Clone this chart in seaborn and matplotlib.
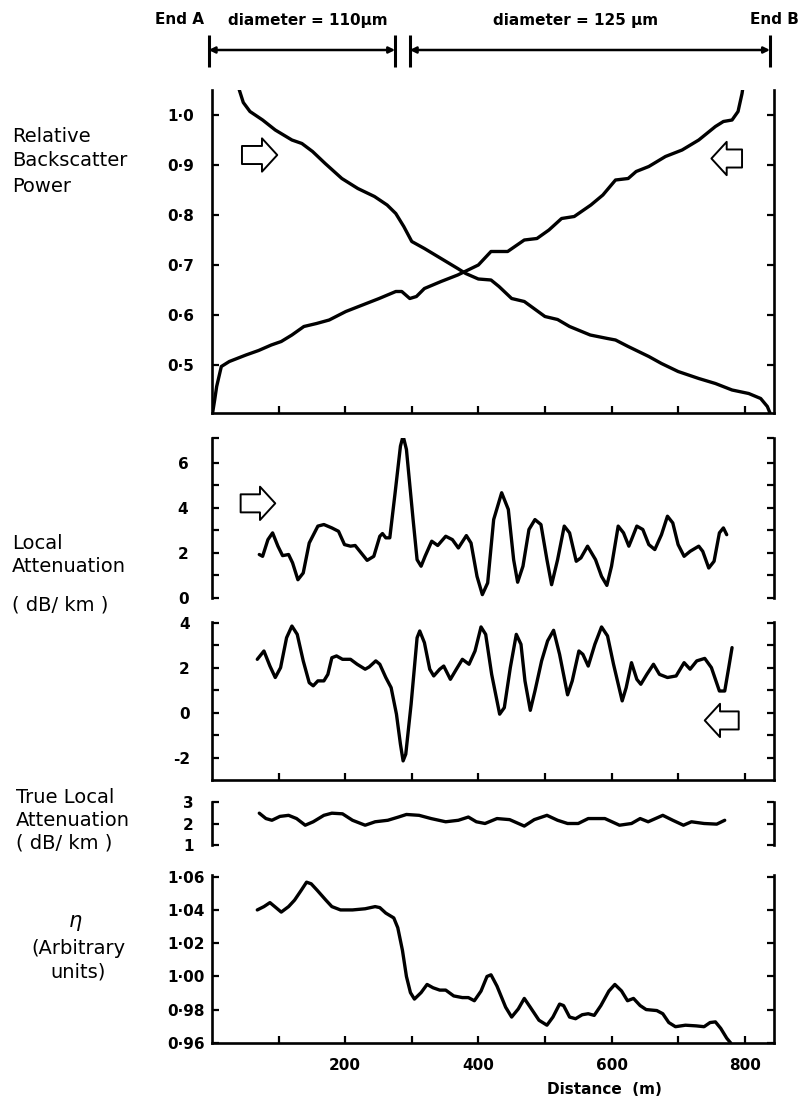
import matplotlib
matplotlib.use('Agg')
from matplotlib import pyplot as plt
import seaborn as sbn

# ---- data (distance in m) ----
# relative backscatter power, launched from End A (falls with distance)
bs_a_x = [38, 41, 47, 57, 76, 95, 120, 135, 151, 170, 195, 219, 244, 263, 276, 288, 300,
          319, 344, 369, 381, 400, 419, 431, 450, 469, 500, 519, 537, 568, 594, 606, 625,
          656, 675, 700, 731, 756, 781, 806, 824, 834, 838]
bs_a_y = [1.07, 1.05, 1.025, 1.007, 0.99, 0.97, 0.95, 0.943, 0.927, 0.903, 0.873, 0.853,
          0.837, 0.82, 0.803, 0.777, 0.747, 0.733, 0.713, 0.693, 0.683, 0.672, 0.67, 0.657,
          0.633, 0.627, 0.597, 0.591, 0.577, 0.56, 0.553, 0.55, 0.537, 0.517, 0.503, 0.487,
          0.473, 0.463, 0.45, 0.443, 0.433, 0.417, 0.404]

# relative backscatter power, launched from End B (rises with distance)
bs_b_x = [1, 4, 7, 14, 26, 51, 70, 89, 104, 120, 138, 157, 176, 201, 226, 251, 276, 285,
          297, 307, 319, 344, 369, 400, 419, 444, 469, 488, 506, 525, 544, 569, 587, 606,
          625, 637, 656, 681, 706, 731, 756, 768, 781, 790, 796, 799]
bs_b_y = [0.405, 0.43, 0.457, 0.497, 0.507, 0.52, 0.529, 0.54, 0.547, 0.56, 0.577, 0.583,
          0.59, 0.607, 0.62, 0.633, 0.647, 0.647, 0.633, 0.637, 0.653, 0.667, 0.68, 0.70,
          0.727, 0.727, 0.75, 0.753, 0.77, 0.793, 0.797, 0.82, 0.84, 0.87, 0.873, 0.887,
          0.897, 0.917, 0.93, 0.95, 0.977, 0.987, 0.99, 1.007, 1.043, 1.07]

# local attenuation (dB/km), forward direction
att_f_x = [71, 76, 84, 91, 99, 106, 115, 121, 129, 137, 146, 159, 168, 180, 190, 199, 208,
           215, 224, 233, 243, 252, 256, 261, 267, 275, 283, 287, 292, 302, 308, 314, 320,
           330, 339, 351, 361, 370, 382, 389, 398, 406, 414, 423, 435, 445, 453, 459, 467,
           476, 485, 494, 503, 510, 519, 529, 537, 547, 554, 564, 576, 585, 593, 600, 610,
           618, 626, 630, 638, 647, 656, 665, 675, 684, 692, 700, 709, 718, 731, 737, 746,
           754, 762, 768, 773]
att_f_y = [1.93, 1.85, 2.59, 2.89, 2.30, 1.88, 1.93, 1.56, 0.81, 1.11, 2.44, 3.19, 3.26,
           3.11, 2.96, 2.37, 2.30, 2.33, 2.0, 1.67, 1.85, 2.74, 2.86, 2.67, 2.67, 4.67, 6.74,
           7.19, 6.59, 3.48, 1.70, 1.41, 1.85, 2.52, 2.33, 2.74, 2.59, 2.22, 2.77, 2.44, 0.96,
           0.15, 0.67, 3.48, 4.67, 3.93, 1.70, 0.70, 1.41, 3.04, 3.48, 3.26, 1.70, 0.59, 1.70,
           3.19, 2.89, 1.63, 1.78, 2.30, 1.70, 0.96, 0.56, 1.41, 3.19, 2.89, 2.30, 2.59, 3.19,
           3.04, 2.37, 2.15, 2.81, 3.63, 3.33, 2.37, 1.85, 2.07, 2.30, 2.07, 1.33, 1.63, 2.89,
           3.11, 2.81]

# local attenuation (dB/km), reverse direction
att_r_x = [68, 78, 87, 95, 103, 112, 120, 128, 137, 146, 152, 159, 168, 174, 180, 187, 196,
           208, 218, 230, 236, 246, 252, 261, 269, 277, 283, 287, 291, 299, 308, 312, 319,
           327, 333, 342, 348, 358, 367, 376, 386, 395, 404, 411, 420, 432, 439, 448, 457,
           464, 470, 478, 485, 495, 504, 513, 522, 534, 541, 551, 557, 565, 575, 585, 594,
           603, 616, 622, 630, 638, 644, 653, 663, 672, 684, 697, 709, 718, 728, 740, 750,
           762, 770, 776, 781]
att_r_y = [2.37, 2.74, 2.07, 1.56, 2.0, 3.33, 3.85, 3.48, 2.30, 1.33, 1.19, 1.41, 1.41,
           1.70, 2.44, 2.52, 2.37, 2.37, 2.15, 1.93, 2.03, 2.30, 2.15, 1.56, 1.11, -0.07,
           -1.41, -2.15, -1.85, 0.37, 3.33, 3.63, 3.11, 1.93, 1.63, 1.93, 2.07, 1.48, 1.93,
           2.37, 2.15, 2.74, 3.81, 3.48, 1.70, -0.07, 0.22, 2.0, 3.48, 3.04, 1.41, 0.10,
           0.96, 2.30, 3.19, 3.66, 2.59, 0.79, 1.41, 2.74, 2.59, 2.07, 3.04, 3.81, 3.41, 2.15,
           0.52, 1.11, 2.22, 1.48, 1.26, 1.70, 2.15, 1.70, 1.56, 1.63, 2.22, 1.93, 2.30, 2.41,
           2.0, 0.96, 0.96, 2.0, 2.89]

# true local attenuation (dB/km)
true_x = [71, 81, 90, 102, 115, 127, 140, 152, 168, 180, 196, 211, 230, 245, 264, 280, 292,
          311, 329, 351, 370, 385, 397, 410, 428, 447, 469, 484, 503, 519, 534, 550, 565,
          590, 612, 630, 643, 655, 677, 692, 708, 720, 739, 758, 770]
true_y = [2.48, 2.23, 2.15, 2.33, 2.38, 2.23, 1.92, 2.08, 2.38, 2.48, 2.45, 2.15, 1.92,
          2.08, 2.15, 2.30, 2.42, 2.38, 2.23, 2.08, 2.15, 2.30, 2.08, 2.0, 2.23, 2.18, 1.88,
          2.18, 2.38, 2.15, 2.0, 2.0, 2.23, 2.23, 1.92, 2.0, 2.23, 2.08, 2.38, 2.15, 1.92,
          2.08, 2.0, 1.97, 2.15]

# eta (arbitrary units)
eta_x = [68, 78, 87, 96, 104, 115, 124, 134, 142, 149, 158, 171, 180, 193, 211, 230, 245,
         252, 261, 273, 279, 286, 292, 298, 304, 314, 323, 332, 342, 351, 363, 376, 385,
         394, 404, 413, 419, 428, 441, 450, 460, 469, 478, 491, 503, 512, 522, 528, 537,
         546, 556, 565, 574, 584, 596, 605, 615, 624, 633, 643, 652, 668, 677, 686, 696,
         711, 727, 739, 748, 756, 764, 773, 779]
eta_y = [1.040, 1.042, 1.0444, 1.0414, 1.0387, 1.042, 1.0459, 1.0518, 1.0567, 1.0557,
         1.0518, 1.0459, 1.042, 1.040, 1.040, 1.0407, 1.042, 1.0414, 1.0381, 1.0352, 1.0293,
         1.0157, 1.000, 0.9903, 0.9864, 0.9903, 0.9952, 0.9932, 0.9918, 0.9918, 0.9883,
         0.9873, 0.9873, 0.9854, 0.9912, 1.000, 1.001, 0.9942, 0.9815, 0.9756, 0.9805,
         0.9868, 0.9815, 0.9737, 0.9707, 0.9756, 0.9834, 0.9825, 0.9756, 0.9746, 0.977,
         0.9776, 0.9766, 0.9825, 0.9912, 0.9952, 0.9913, 0.9854, 0.9868, 0.9825, 0.9801,
         0.9795, 0.9776, 0.9723, 0.9698, 0.9707, 0.9703, 0.9698, 0.9723, 0.9727, 0.9688,
         0.9629, 0.960]

# ---- style ----
sbn.set_style('ticks')
plt.rcParams['font.family'] = ['DejaVu Sans']
plt.rcParams['axes.linewidth'] = 1.9
for key in ['axes.edgecolor', 'text.color', 'xtick.color', 'ytick.color', 'axes.labelcolor']:
    plt.rcParams[key] = 'black'

XMAX = 844
fig = plt.figure(figsize=(8, 11), dpi=100)


def panel(top, bottom):
    # axes placed by pixel rows of the 800x1100 canvas
    return fig.add_axes([212 / 800, 1 - bottom / 1100, 562 / 800, (bottom - top) / 1100])


def frame(ax, ylim, ticks, labels, minor=(), bottom=False, pad=12):
    ax.set_xlim(0, XMAX)
    ax.set_ylim(*ylim)
    ax.spines['top'].set_visible(False)
    ax.spines['bottom'].set_visible(bottom)
    ax.set_yticks(ticks, labels, fontweight='bold', fontsize=11)
    ax.set_yticks(list(minor), minor=True)
    ax.tick_params(axis='y', which='both', direction='in', left=True, right=True,
                   length=5, width=1.6, pad=pad)
    if bottom:
        ax.set_xticks(range(100, 900, 100))
        ax.tick_params(axis='x', which='both', direction='in', length=5, width=1.6,
                       labelbottom=False)
    else:
        ax.tick_params(axis='x', which='both', bottom=False, labelbottom=False)
    ax.set_xlabel('')
    ax.set_ylabel('')


def trace(ax, xs, ys):
    sbn.lineplot(x=xs, y=ys, ax=ax, color='black', linewidth=2.4,
                 solid_joinstyle='round', solid_capstyle='round')


def block_arrow(ax, x_tail, x_head, y):
    ax.annotate('', xy=(x_head, y), xytext=(x_tail, y),
                arrowprops=dict(arrowstyle='simple,head_length=1.1,head_width=2.4,tail_width=1.3',
                                fc='white', ec='black', lw=1.4, mutation_scale=10,
                                shrinkA=0, shrinkB=0))


# header: fibre sections
hdr = fig.add_axes([212 / 800, 1 - 80 / 1100, 562 / 800, 80 / 1100])
hdr.set_xlim(0, XMAX)
hdr.set_ylim(80, 0)
hdr.axis('off')
for x0, x1 in [(-5, 275), (297, 838)]:
    hdr.annotate('', xy=(x0, 50), xytext=(x1, 50), annotation_clip=False,
                 arrowprops=dict(arrowstyle='<|-|>', color='black', lw=1.8,
                                 mutation_scale=9, shrinkA=0, shrinkB=0))
hdr.vlines([-5, 275, 297, 838], 35, 67, color='black', lw=2.2, clip_on=False)
hdr.text(-12, 20, 'End A', ha='right', va='center', fontsize=11, fontweight='bold')
hdr.text(24, 20, 'diameter = 110μm', ha='left', va='center', fontsize=11, fontweight='bold')
hdr.text(546, 20, 'diameter = 125 μm', ha='center', va='center', fontsize=11, fontweight='bold')
hdr.text(845, 20, 'End B', ha='center', va='center', fontsize=11, fontweight='bold')

# relative backscatter power
ax1 = panel(90, 413)
trace(ax1, bs_a_x, bs_a_y)
trace(ax1, bs_b_x, bs_b_y)
frame(ax1, (0.404, 1.05), [0.5, 0.6, 0.7, 0.8, 0.9, 1.0],
      ['0·5', '0·6', '0·7', '0·8', '0·9', '1·0'], bottom=True, pad=13)
block_arrow(ax1, 45, 98, 0.92)
block_arrow(ax1, 796, 750, 0.913)

# local attenuation, forward
ax2 = panel(438, 598)
trace(ax2, att_f_x, att_f_y)
frame(ax2, (0, 7.1), [0, 2, 4, 6], ['0', '2', '4', '6'], minor=[1, 3, 5, 7.1], pad=17)
block_arrow(ax2, 43, 95, 4.2)

# local attenuation, reverse
ax3 = panel(622, 780)
trace(ax3, att_r_x, att_r_y)
frame(ax3, (-3, 4.03), [-2, 0, 2, 4], ['-2', '0', '2', '4'], minor=[-1, 1, 3],
      bottom=True, pad=16)
block_arrow(ax3, 791, 740, -0.35)

# true local attenuation
ax4 = panel(802, 845)
trace(ax4, true_x, true_y)
frame(ax4, (1, 3), [1, 2, 3], ['1', '2', '3'], pad=13)

# eta
ax5 = panel(875, 1043)
trace(ax5, eta_x, eta_y)
frame(ax5, (0.96, 1.061), [0.96, 0.98, 1.00, 1.02, 1.04, 1.06],
      ['0·96', '0·98', '1·00', '1·02', '1·04', '1·06'], bottom=True, pad=5)
ax5.set_xticks([200, 400, 600, 800], ['200', '400', '600', '800'],
               fontweight='bold', fontsize=11)
ax5.set_xticks([100, 300, 500, 700], minor=True)
ax5.tick_params(axis='x', which='both', direction='in', length=5, width=1.6,
                labelbottom=True, pad=11)
fig.text(604 / 800, 1 - 1090 / 1100, 'Distance  (m)', ha='center', va='center',
         fontsize=11, fontweight='bold')

# left-hand labels
fig.text(12 / 800, 1 - 161 / 1100, 'Relative\nBackscatter\nPower', ha='left', va='center',
         fontsize=14, linespacing=1.4)
fig.text(12 / 800, 1 - 555 / 1100, 'Local\nAttenuation', ha='left', va='center',
         fontsize=14, linespacing=1.25)
fig.text(12 / 800, 1 - 605 / 1100, '( dB/ km )', ha='left', va='center', fontsize=14)
fig.text(16 / 800, 1 - 820 / 1100, 'True Local\nAttenuation\n( dB/ km )', ha='left',
         va='center', fontsize=14, linespacing=1.25)
fig.text(75 / 800, 1 - 921 / 1100, 'η', ha='center', va='center', fontsize=15,
         fontstyle='italic')
fig.text(78 / 800, 1 - 960 / 1100, '(Arbitrary\nunits)', ha='center', va='center',
         fontsize=14, linespacing=1.3, multialignment='center')

fig.savefig('out.png', dpi=100)
